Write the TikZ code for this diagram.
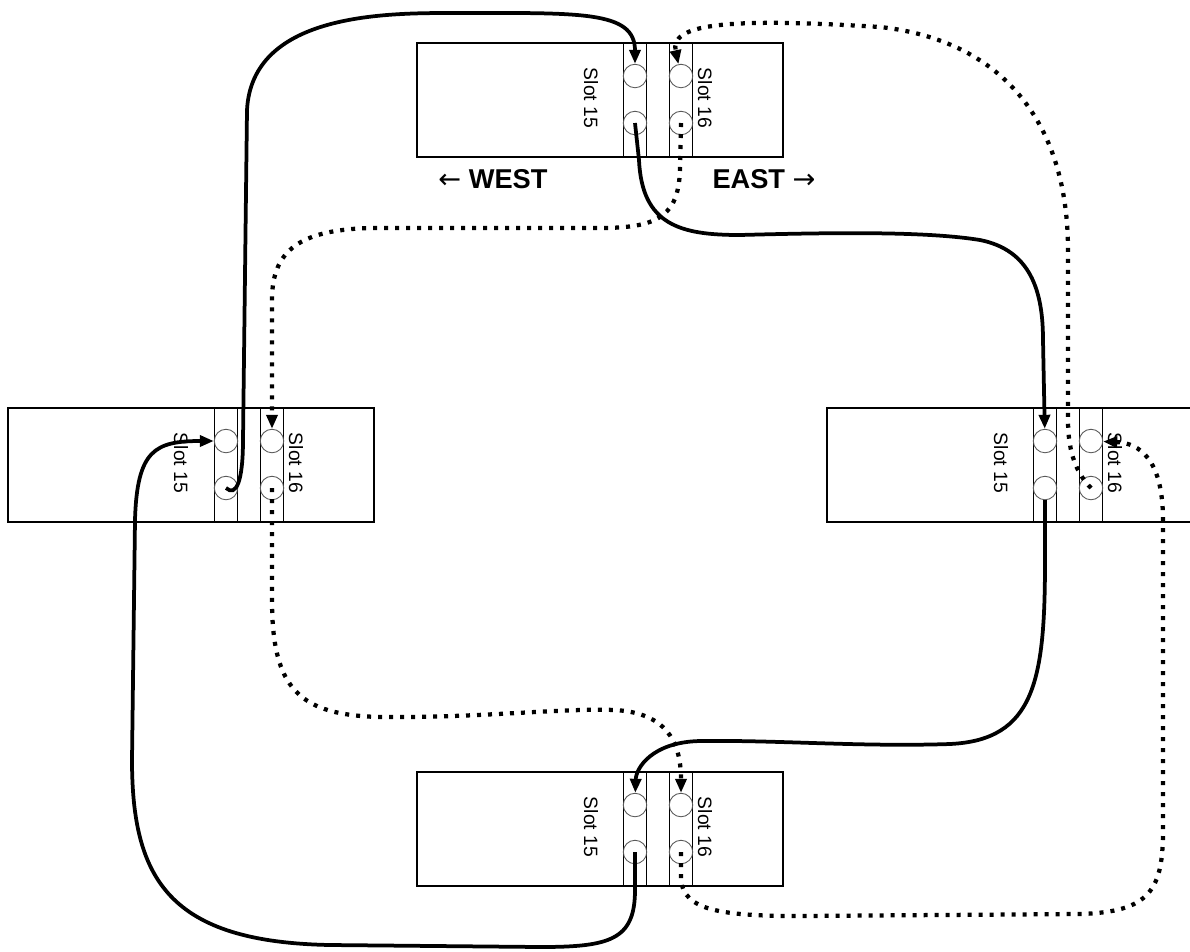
\documentclass[tikz,border=0pt]{standalone}
\usepackage{fontspec}
\setmainfont{Liberation Sans}
\newfontfamily\arrowfont{DejaVu Sans}
\usetikzlibrary{arrows.meta}

\begin{document}
\begin{tikzpicture}[x=0.02cm, y=-0.02cm,
    card/.style={rectangle, draw, line width=0.7pt, minimum width=7.32cm, minimum height=2.28cm, inner sep=0pt},
    strip/.style={rectangle, draw, line width=0.6pt, minimum width=0.47cm, minimum height=2.28cm, inner sep=0pt},
    port/.style={circle, draw=black!65, line width=0.5pt, minimum size=0.47cm, inner sep=0pt},
    slot/.style={rotate=-90, inner sep=0pt, font=\fontsize{11}{13}\selectfont},
    side/.style={inner sep=0pt, font=\bfseries\fontsize{15.5}{18}\selectfont},
    cable/.style={line width=0.075cm, -{Triangle[length=0.28cm, width=0.22cm]}},
    fibre/.style={line width=0.085cm, dash pattern=on 0.08cm off 0.14cm, -{Triangle[length=0.28cm, width=0.22cm]}}]
    \useasboundingbox (0,0) rectangle (1190,951);

    % Placas
    \node[card] (t) at (600,100) {};
    \node[card] (l) at (191,465) {};
    \node[card] (r) at (1010,465) {};
    \node[card] (b) at (600,829) {};

    % Slots
    \node[strip] (t-s15) at (635,100) {};
    \node[strip] (t-s16) at (681,100) {};
    \node[strip] (l-s15) at (226,465) {};
    \node[strip] (l-s16) at (272,465) {};
    \node[strip] (r-s15) at (1045,465) {};
    \node[strip] (r-s16) at (1091,465) {};
    \node[strip] (b-s15) at (635,829) {};
    \node[strip] (b-s16) at (681,829) {};

    % Portas
    \node[port] (t-i15) at (635,76) {};
    \node[port] (t-o15) at (635,123) {};
    \node[port] (t-i16) at (681,76) {};
    \node[port] (t-o16) at (681,123) {};
    \node[port] (l-i15) at (226,441) {};
    \node[port] (l-o15) at (226,488) {};
    \node[port] (l-i16) at (272,441) {};
    \node[port] (l-o16) at (272,488) {};
    \node[port] (r-i15) at (1045,441) {};
    \node[port] (r-o15) at (1045,488) {};
    \node[port] (r-i16) at (1091,441) {};
    \node[port] (r-o16) at (1091,488) {};
    \node[port] (b-i15) at (635,805) {};
    \node[port] (b-o15) at (635,852) {};
    \node[port] (b-i16) at (681,805) {};
    \node[port] (b-o16) at (681,852) {};

    % Textos
    \node[slot] (t-l15) at (591,98) {Slot 15};
    \node[slot] (t-l16) at (705,98) {Slot 16};
    \node[slot] (l-l15) at (181,463) {Slot 15};
    \node[slot] (l-l16) at (296,463) {Slot 16};
    \node[slot] (r-l15) at (1001,463) {Slot 15};
    \node[slot] (r-l16) at (1115,463) {Slot 16};
    \node[slot] (b-l15) at (591,827) {Slot 15};
    \node[slot] (b-l16) at (705,827) {Slot 16};
    \node[side] (west) at (493,179) {{\arrowfont\mdseries ←} WEST};
    \node[side] (east) at (764,179) {EAST {\arrowfont\mdseries →}};

    % Cabos
    \draw[cable] (l-o15.center) .. controls (236,497) and (243,482) .. (243,440) -- (247,110) .. controls (252,15) and (380,13) .. (450,13) .. controls (580,13) and (635,10) .. (t-i15);
    \draw[cable] (t-o15.center) -- (639,160) .. controls (642,225) and (680,235) .. (740,235) .. controls (850,232) and (930,232) .. (980,240) .. controls (1030,250) and (1043,290) .. (1043,340) -- (r-i15);
    \draw[cable] (r-o15.south) -- (1045,560) .. controls (1045,680) and (1035,740) .. (950,744) .. controls (860,747) and (780,740) .. (700,741) .. controls (652,742) and (636,768) .. (b-i15);
    \draw[cable] (b-o15.center) -- (635,890) .. controls (635,940) and (610,947) .. (540,947) -- (330,945) .. controls (170,942) and (132,880) .. (132,760) -- (135,520) .. controls (137,450) and (155,441) .. (l-i15);

    \draw[fibre] (t-o16.center) -- (680,165) .. controls (680,215) and (660,228) .. (600,228) -- (370,228) .. controls (300,230) and (272,250) .. (272,300) -- (l-i16);
    \draw[fibre] (l-o16.center) -- (272,600) .. controls (272,690) and (300,715) .. (380,717) .. controls (480,718) and (560,708) .. (615,710) .. controls (665,713) and (681,740) .. (b-i16);
    \draw[fibre] (b-o16.center) -- (681,880) .. controls (684,910) and (720,916) .. (800,916) -- (1080,914) .. controls (1150,912) and (1163,890) .. (1163,830) -- (1163,520) .. controls (1163,460) and (1140,443) .. (r-i16);
    \draw[fibre] (r-o16.center) .. controls (1078,475) and (1068,455) .. (1068,420) -- (1068,250) .. controls (1068,120) and (1000,40) .. (880,27) .. controls (720,17) and (670,25) .. (t-i16);
\end{tikzpicture}
\end{document}
